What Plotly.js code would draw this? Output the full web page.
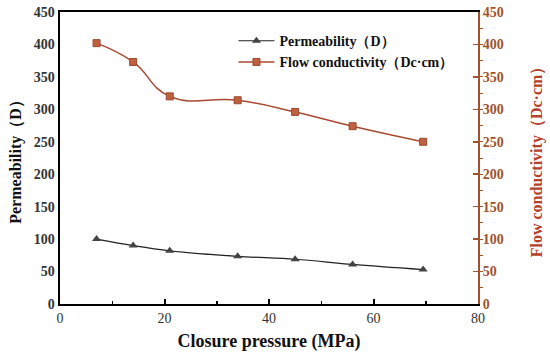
<!DOCTYPE html>
<html><head><meta charset="utf-8">
<script src="https://cdn.plot.ly/plotly-3.0.1.min.js"></script>
<style>html,body{margin:0;padding:0;background:#fff}#chart{width:550px;height:357px}</style>
</head><body><div id="chart"></div>
<script>
const pressure = [7, 14, 21, 34, 45, 56, 69.5];
const permeability = [100, 90, 82, 73.5, 69, 61, 53];
const flowConductivity = [402, 373, 320, 314, 296, 274, 250];

const brown = '#a0522d';
const serif = 'Liberation Serif';

const traces = [
  {x: pressure, y: permeability, name: '<b>Permeability（D）</b>', type: 'scatter', mode: 'lines+markers',
   line: {color: '#222', width: 1.2, shape: 'spline', smoothing: 1},
   marker: {symbol: 'triangle-up', size: 8, color: '#444'}},
  {x: pressure, y: flowConductivity, name: '<b>Flow conductivity（Dc·cm）</b>', type: 'scatter', mode: 'lines+markers', yaxis: 'y2',
   line: {color: '#a84a32', width: 1.5, shape: 'spline', smoothing: 1.3},
   marker: {symbol: 'square', size: 7, color: '#c0603f', line: {color: '#9a4a30', width: 1}}}
];

const layout = {
  width: 550, height: 357,
  margin: {l: 60, r: 72, t: 12, b: 53},
  paper_bgcolor: '#fff', plot_bgcolor: '#fff',
  font: {family: serif, color: '#222'},
  showlegend: true,
  legend: {x: 0.415, y: 0.955, xanchor: 'left', yanchor: 'top', bgcolor: 'rgba(0,0,0,0)',
           font: {family: serif, size: 14, color: '#111'}, tracegroupgap: 0, itemwidth: 36},
  xaxis: {range: [0, 80], dtick: 20, showgrid: false, zeroline: false,
          showline: true, linecolor: '#000', linewidth: 2, mirror: true,
          ticks: 'inside', ticklen: 5, tickwidth: 2, tickcolor: '#000',
          minor: {ticks: 'inside', ticklen: 3, tickwidth: 1.5, dtick: 10, tickcolor: '#000'},
          tickfont: {family: serif, size: 14, color: '#333'},
          title: {text: '<b>Closure pressure (MPa)</b>', font: {family: serif, size: 18, color: '#111'}, standoff: 10}},
  yaxis: {range: [0, 450], dtick: 50, showgrid: false, zeroline: false,
          showline: true, linecolor: '#000', linewidth: 2.5,
          ticks: '', tickfont: {family: serif, size: 14, color: '#333'},
          tickprefix: '<b>', ticksuffix: '</b>',
          title: {text: '<b>Permeability（D）</b>', font: {family: serif, size: 16, color: '#111'}, standoff: 8}},
  yaxis2: {range: [0, 450], dtick: 50, overlaying: 'y', side: 'right', showgrid: false, zeroline: false,
           showline: true, linecolor: brown, linewidth: 2,
           ticks: 'inside', ticklen: 5, tickwidth: 1.5, tickcolor: brown,
           minor: {ticks: 'outside', ticklen: 3, tickwidth: 1, dtick: 25, tickcolor: brown},
           tickfont: {family: serif, size: 14, color: brown},
           tickprefix: '<b>', ticksuffix: '</b>',
           title: {text: '<b>Flow conductivity（Dc·cm）</b>', font: {family: serif, size: 16, color: '#b5402a'}, standoff: 28}}
};

Plotly.newPlot('chart', traces, layout, {displayModeBar: false, staticPlot: true});
</script></body></html>
